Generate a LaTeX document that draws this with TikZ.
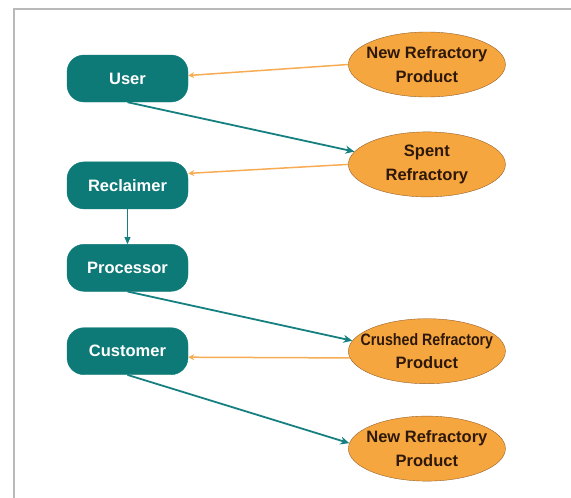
\documentclass[tikz,border=0pt]{standalone}
\usepackage{fontspec}
\setmainfont{Liberation Sans}
\usetikzlibrary{arrows.meta, positioning, shapes.geometric}
\definecolor{partyteal}{RGB}{14,122,120}
\definecolor{flowteal}{RGB}{22,128,128}
\definecolor{stockfill}{RGB}{246,166,62}
\definecolor{stockline}{RGB}{150,96,42}
\definecolor{supplyorange}{RGB}{247,172,84}
\definecolor{stocktext}{RGB}{45,24,10}
\tikzset{
  party/.style={draw=partyteal, fill=partyteal, rounded corners=17pt, minimum height=47pt, minimum width=121pt, inner sep=0pt, text=white, font=\bfseries\fontsize{16.5}{20}\selectfont},
  stock/.style={draw=stockline, fill=stockfill, ellipse, minimum height=65pt, minimum width=157pt, inner xsep=-14pt, inner ysep=0pt, align=center, text=stocktext, font=\bfseries\fontsize{16.5}{23.5}\selectfont},
  flow/.style={-{Stealth[length=9pt, width=8pt]}, draw=flowteal, line width=1.8pt},
  supply/.style={-{Stealth[length=6pt, width=6pt]}, draw=supplyorange, line width=1.5pt},
  link/.style={-{Triangle[length=7pt, width=6pt]}, draw=flowteal, line width=0.9pt},
}

\begin{document}
\begin{tikzpicture}[x=1pt, y=-1pt, node distance=160pt]
    \useasboundingbox (0,0) rectangle (571,498);
    \draw[gray!55, line width=1.5pt] (14,498) -- (14,9) -- (571,9);

    % who handles the material
    \node[party] (user) at (127.5,78.5) {User};
    \node[party, below=59.5pt of user] (reclaimer) {Reclaimer};
    \node[party, below=35pt of reclaimer] (processor) {Processor};
    \node[party, below=36pt of processor] (customer) {Customer};

    % what they pass along
    \node[stock, right=of user, yshift=14pt] (newtop) {New Refractory\\Product};
    \node[stock, right=of reclaimer, yshift=21pt] (spent) {Spent\\Refractory};
    \node[stock, right=of customer] (crushed) {\scalebox{0.86}[1]{Crushed Refractory}\\Product};
    \node[stock, below=32pt of crushed] (newbot) {New Refractory\\Product};

    \draw[supply] (newtop.west) -- ([yshift=3pt]user.east);
    \draw[flow] (user.south) -- (spent.170);
    \draw[supply] (spent.west) -- ([yshift=12pt]reclaimer.east);
    \draw[link] (reclaimer) -- (processor);
    \draw[flow] (processor.south) -- (crushed.172);
    \draw[supply] (crushed.185) -- ([yshift=-6pt]customer.east);
    \draw[flow] (customer.south) -- (newbot.176);
  \end{tikzpicture}
\end{document}
